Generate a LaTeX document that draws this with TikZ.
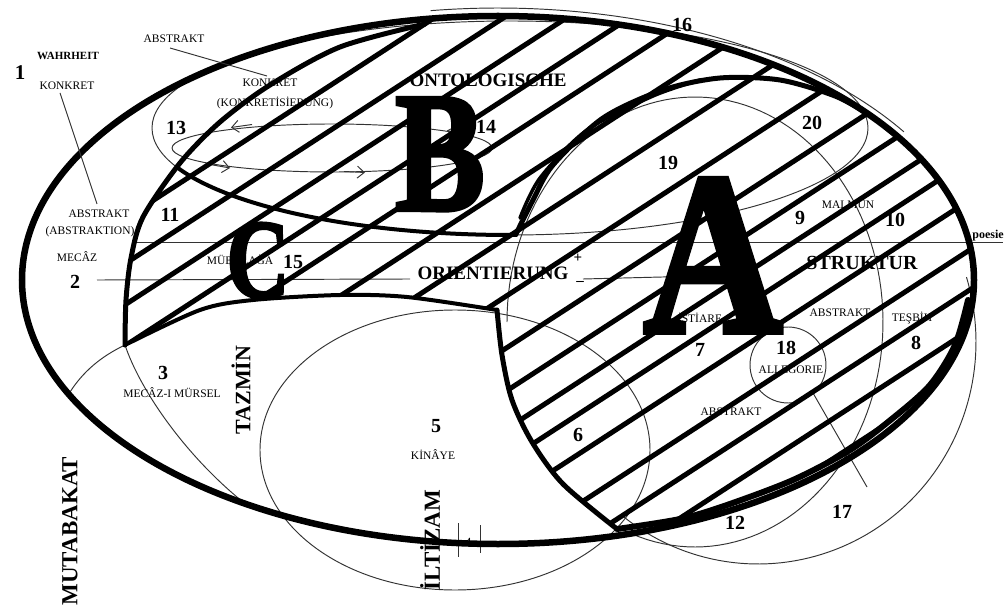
\documentclass[tikz,border=0pt]{standalone}
\usepackage{fontspec}
\setmainfont{Liberation Serif}
\newfontfamily\fatserif{Liberation Serif}[BoldFeatures={FakeBold=2.5}]
\usetikzlibrary{arrows.meta}
\begin{document}
\begin{tikzpicture}[x=1pt,y=-1pt,
 fine/.style={line width=0.95pt, black!80},
 heavy/.style={line width=5pt, line join=round, line cap=round},
 hatch/.style={line width=5pt},
 lbl/.style={inner sep=0pt, font=\fontsize{11.5}{11.5}\selectfont},
 num/.style={inner sep=0pt, font=\fontsize{20}{20}\selectfont\bfseries},
 word/.style={inner sep=0pt, font=\fontsize{19}{19}\selectfont\bfseries},
 giant/.style={inner sep=0pt, anchor=base}
]
\useasboundingbox (0,0) rectangle (1005,607);
\fill[white] (0,0) rectangle (1005,607);

% ---------- thin curves ----------
\draw[fine] (510,128) ellipse [x radius=358, y radius=107];
\draw[fine] (332,148) ellipse [x radius=160, y radius=24];
\draw[fine] (455,450) ellipse [x radius=195, y radius=140];
\draw[fine] plot[domain=-180:112,samples=120] ({695+188*cos(\x)},{322+225*sin(\x)});
\draw[fine] plot[domain=-17:128,samples=80] ({758+218*cos(\x)},{342+222*sin(\x)});
\draw[fine] plot[domain=-98:-33,samples=60] ({498+484*cos(\x)},{280+272*sin(\x)});
\draw[fine] plot[domain=72:408,samples=60] ({788+38*cos(\x)},{365+38*sin(\x)});
\coordinate (c18) at (813,393);
\coordinate (c18e) at (867,487);
\draw[fine] (c18) -- (c18e);
\coordinate (cusp) at (125,345);
\draw[fine] (cusp) .. controls (100,357) and (83,372) .. (70,392);
\draw[fine] (cusp) .. controls (140,390) and (185,455) .. (243,502);
% arrows on the small ellipse
\draw[fine,-{Straight Barb[length=7pt,width=12pt]}] (252,124.5) -- (231,127.5);
\draw[fine,-{Straight Barb[length=7pt,width=12pt]}] (467,135) -- (447,130.5);
\draw[fine,-{Straight Barb[length=7pt,width=12pt]}] (210,164.5) -- (230,168);
\draw[fine,-{Straight Barb[length=7pt,width=12pt]}] (344,171.5) -- (365,172.5);
% horizontal lines
\coordinate (h1a) at (135,242); \coordinate (h1b) at (1003,242);
\draw[fine] (h1a) -- (h1b);
\coordinate (h2a) at (97,280); \coordinate (h2b) at (410,279);
\coordinate (h2c) at (583,279); \coordinate (h2d) at (702,276);
\draw[fine] (h2a) -- (h2b);
\draw[fine,-{Straight Barb[length=8pt,width=14pt]}] (h2c) -- (h2d);
% 4 marks
\draw[fine] (458,523) -- (458,557);
\draw[fine] (480,525) -- (480,553);

% ---------- hatching ----------
\begin{scope}
\clip (498,280) ellipse [x radius=476, y radius=264];
\clip plot[smooth] coordinates {(125,345) (126,300) (131,258) (143,217) (180,163) (220,122) (270,85) (340,47) (425,24)}
 -- (425,-30) -- (1060,-30) -- (1060,300)
 -- plot[smooth] coordinates {(968,300) (955,345) (930,385) (893,418) (850,450) (793,480) (727,505) (680,519) (617,529)}
 -- plot[smooth] coordinates {(617,529) (563,484) (532,442) (512,400) (502,355) (497,310)}
 -- plot[smooth] coordinates {(497,310) (407,297) (340,295) (253,300) (200,310) (125,345)} -- cycle;
\foreach \c in {258,300,345,386,427,467,517,567,625,677,720,758,790,830,880,920,960,1000} {
  \draw[hatch] (0,\c) -- (1005,\c-653);
}
\end{scope}

% ---------- heavy boundaries ----------
\draw[heavy] plot[smooth] coordinates {(125,345) (126,300) (131,258) (143,217) (180,163) (220,122) (270,85) (340,47) (425,24)};
\draw[heavy,line width=4pt] plot[domain=89:158,samples=60] ({510+358*cos(\x)},{128+107*sin(\x)});
\draw[heavy] plot[smooth] coordinates {(516,234) (533,200) (553,165) (603,118) (663,90) (720,78) (780,80) (835,96) (870,115)};
\draw[heavy,line width=3.5pt] plot[smooth] coordinates {(520,218) (540,178) (587,130) (653,96) (700,80)};
\draw[heavy,line width=6pt] plot[smooth] coordinates {(968,300) (955,345) (930,385) (893,418) (850,450) (793,480) (727,505) (680,519) (617,529)};
\draw[heavy] plot[smooth] coordinates {(617,529) (563,484) (532,442) (512,400) (502,355) (497,310)};
\draw[heavy,line width=4pt] plot[smooth] coordinates {(497,310) (407,297) (340,295) (253,300) (200,310) (125,345)};
\draw[line width=6.5pt] (498,280) ellipse [x radius=476, y radius=264];

% ---------- leader lines ----------
\node[lbl] (abs1) at (174,39) {ABSTRAKT};
\node[lbl] (kon2) at (270,83) {KONKRET};
\draw[fine] (170,48) -- (267,76);
\node[lbl] (kon1) at (67,86) {KONKRET};
\node[lbl] (abs2) at (99,214) {ABSTRAKT};
\draw[fine] (60,93) -- (97,204);

% ---------- texts ----------
\node[inner sep=0pt, font=\fontsize{21}{21}\selectfont\bfseries] (n1) at (20,73) {1};
\node[inner sep=0pt, font=\fontsize{11}{11}\selectfont\bfseries] (wahr) at (68,56) {WAHRHEIT};
\node[lbl] (konkr) at (275,103) {(KONKRETİSİERUNG)};
\node[num] (n13) at (176,128) {13};
\node[num] (n14) at (486,127) {14};
\node[word] (onto) at (488,80) {ONTOLOGISCHE};
\node[giant, font=\fontsize{171}{171}\fatserif\bfseries, xscale=0.79] (B) at (440,210) {B};
\node[num] (n11) at (170,215) {11};
\node[lbl] (abstn) at (90,232) {(ABSTRAKTION)};
\node[lbl] (mecaz) at (77,257) {MECÂZ};
\node[num] (n2) at (75,282) {2};
\node[lbl] (mubal) at (240,260) {MÜBALAĞA};
\node[giant, font=\fontsize{112}{112}\fatserif\bfseries, xscale=0.78] (C) at (258,297) {C};
\node[num] (n15) at (293,262) {15};
\node[word] (orient) at (493,273) {ORIENTIERUNG};
\node[inner sep=0pt, font=\fontsize{15}{15}\selectfont\bfseries] (plus) at (578,258) {+};
\node[inner sep=0pt, font=\fontsize{15}{15}\selectfont\bfseries] (minus) at (580,283) {–};
\node[num] (n3) at (163,373) {3};
\node[lbl] (mursel) at (172,393) {MECÂZ-I MÜRSEL};
\node[inner sep=0pt, rotate=90, font=\fontsize{22}{22}\selectfont\bfseries] (tazmin) at (241,390) {TAZMİN};
\node[inner sep=0pt, rotate=90, font=\fontsize{23}{23}\selectfont\bfseries] (mutab) at (70,531) {MUTABAKAT};
\node[inner sep=0pt, rotate=90, font=\fontsize{23}{23}\selectfont\bfseries] (iltizam) at (430,540) {İLTİZAM};
\node[num] (n5) at (436,426) {5};
\node[lbl] (kinaye) at (433,455) {KİNÂYE};
\node[inner sep=0pt, font=\fontsize{14}{14}\selectfont] (n4) at (468,543) {4};
\node[num] (n6) at (578,435) {6};
\node[num] (n19) at (668,163) {19};
\node[num] (n20) at (812,123) {20};
\node[num] (n16) at (682,25) {16};
\node[num] (n9) at (800,218) {9};
\node[lbl] (malmun) at (848,205) {MALMUN};
\node[num] (n10) at (895,220) {10};
\node[inner sep=0pt, font=\fontsize{12}{12}\selectfont\bfseries] (poesie) at (988,236) {poesie};
\node[inner sep=0pt, font=\fontsize{20}{20}\selectfont\bfseries] (strukt) at (862,263) {STRUKTUR};
\node[giant, font=\fontsize{232}{232}\fatserif\bfseries, xscale=0.83] (A) at (713,332) {A};
\node[lbl] (istiare) at (700,318) {İSTİARE};
\node[lbl] (abs3) at (840,313) {ABSTRAKT};
\node[lbl] (tesbih) at (912,318) {TEŞBİH};
\node[num] (n7) at (700,350) {7};
\node[num] (n18) at (786,348) {18};
\node[lbl] (alleg) at (791,370) {ALLEGORIE};
\node[num] (n8) at (916,343) {8};
\node[lbl] (abs4) at (731,412) {ABSTRAKT};
\node[num] (n12) at (735,523) {12};
\node[num] (n17) at (842,512) {17};
\end{tikzpicture}
\end{document}
